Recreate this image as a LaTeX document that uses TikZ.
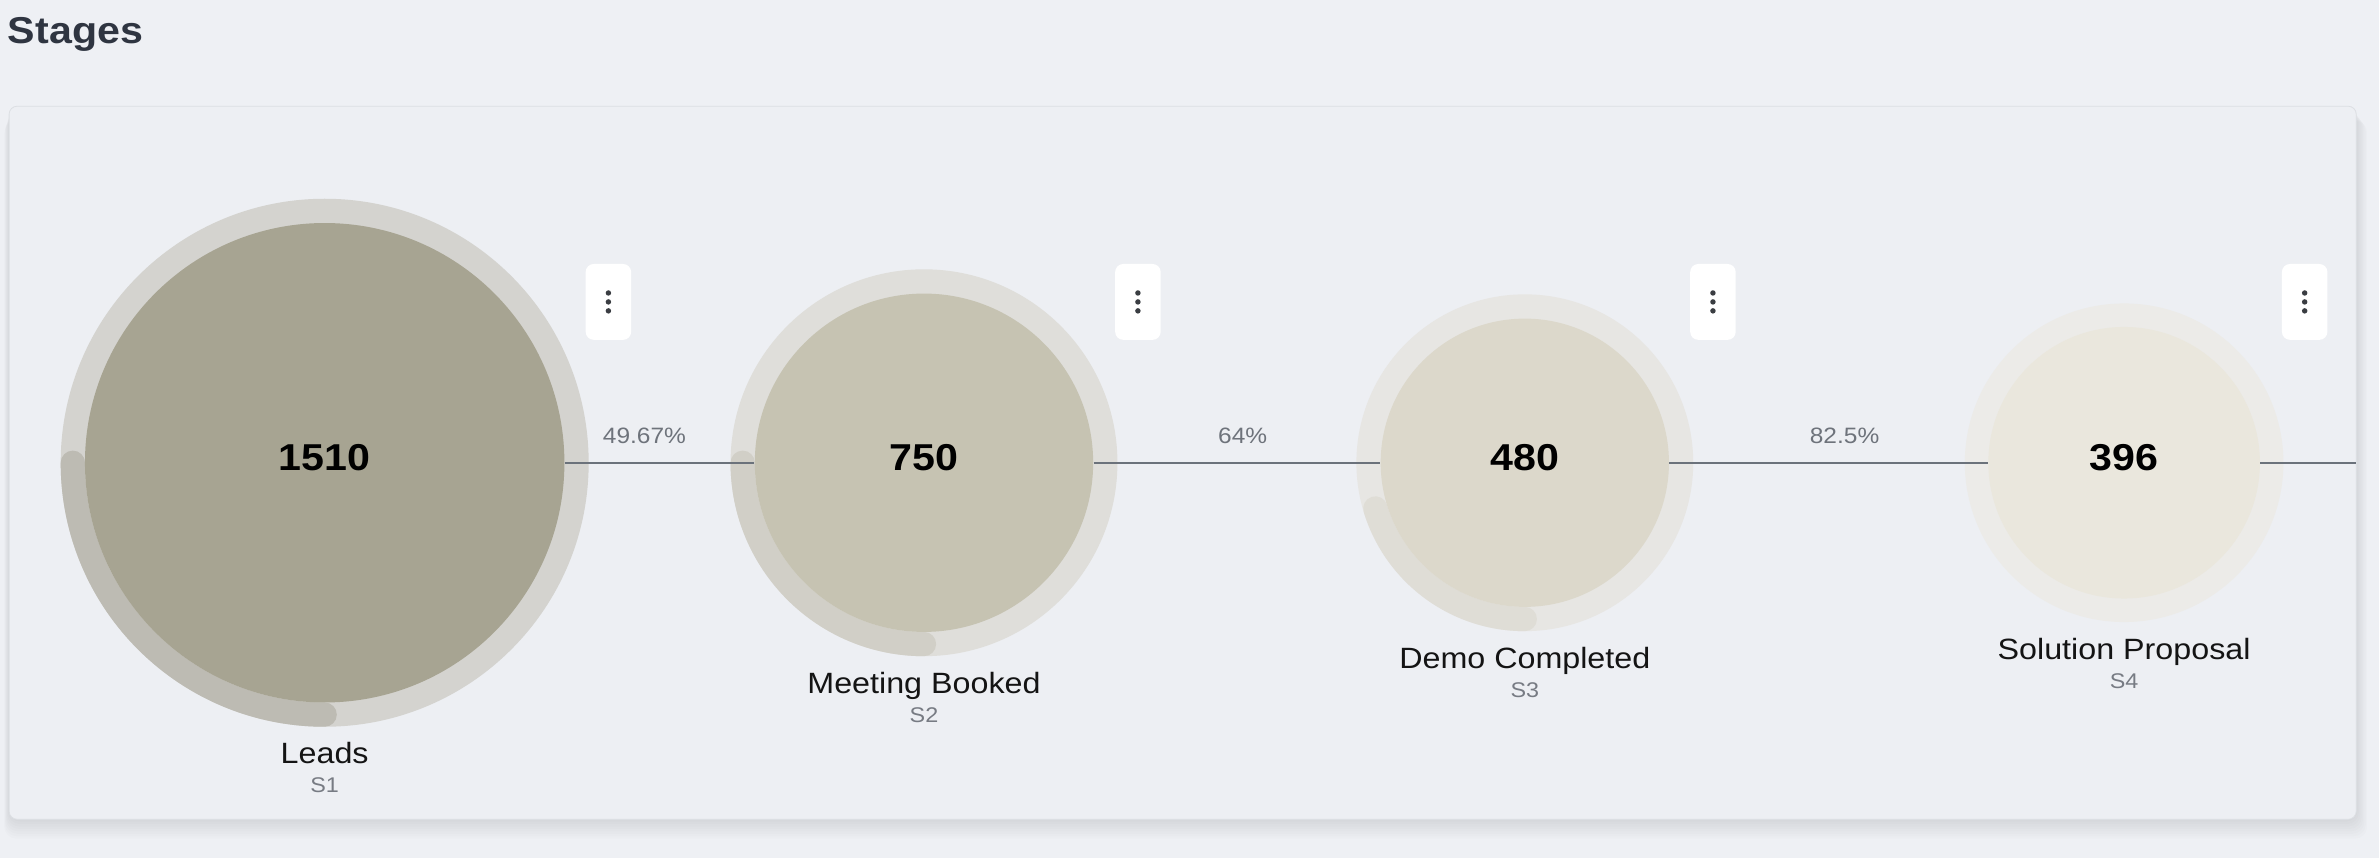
\documentclass[tikz,border=0pt]{standalone}
\usepackage{fontspec}
\setmainfont{Liberation Sans}[FakeStretch=1.1]
\usetikzlibrary{calc}
\definecolor{bgc}{HTML}{EEF0F4}
\definecolor{cardc}{HTML}{EDEFF3}
\definecolor{cardline}{HTML}{DCDFE3}
\definecolor{fill1}{HTML}{A7A492}
\definecolor{ring1}{HTML}{D4D3CF}
\definecolor{arc1}{HTML}{BDBBB3}
\definecolor{fill2}{HTML}{C6C3B2}
\definecolor{ring2}{HTML}{DFDEDA}
\definecolor{arc2}{HTML}{D1CFC7}
\definecolor{fill3}{HTML}{DCD8CB}
\definecolor{ring3}{HTML}{E7E6E3}
\definecolor{arc3}{HTML}{DFDDD6}
\definecolor{fill4}{HTML}{EAE7DD}
\definecolor{ring4}{HTML}{ECEBE8}
\definecolor{linkc}{HTML}{6B727B}
\definecolor{pctc}{HTML}{6E737B}
\definecolor{subc}{HTML}{777B83}
\definecolor{titlec}{HTML}{2F3541}
\definecolor{dotc}{HTML}{3A3D42}
\tikzset{ stage/.style = { circle
                         , inner sep  = 0pt
                         , text       = black
                         , text depth = 5.5pt
                         , font       = \fontsize{18.5}{20}\selectfont\bfseries
                         },
          arcs/.style  = { line width = 12pt
                         , line cap   = round
                         },
          lbl/.style   = { anchor     = base
                         , inner sep  = 0pt
                         , text       = black!92
                         , font       = \fontsize{14.5}{16}\selectfont
                         },
          sub/.style   = { anchor     = base
                         , inner sep  = 0pt
                         , text       = subc
                         , font       = \fontsize{10.5}{12}\selectfont
                         },
          pct/.style   = { above
                         , inner sep  = 0pt
                         , yshift     = 9pt
                         , text       = pctc
                         , font       = \fontsize{11}{12}\selectfont
                         },
          menu/.style  = { rectangle
                         , rounded corners = 4pt
                         , fill       = white
                         , minimum width  = 22.5pt
                         , minimum height = 37.5pt
                         },
          link/.style  = { draw = linkc
                         , line width = 0.85pt
                         }
        }

\begin{document}
\begin{tikzpicture}[x=0.75pt, y=0.75pt]
      \useasboundingbox (0,0.5) rectangle (1568,566);
      \fill[bgc] (0,0.5) rectangle (1568,566);
      % card with soft shadow
      \foreach \k in {1,...,8}
        \fill[black, opacity=0.012, rounded corners=6pt]
          (6-0.4*\k, 26-1.6*\k) rectangle (1553+0.9*\k, 496-1.2*\k);
      \draw[cardline, fill=cardc, rounded corners=4pt] (6,26) rectangle (1553,496);

      \node[anchor=base west, inner sep=0pt, text=titlec,
            font=\fontsize{18.5}{20}\selectfont\bfseries] (title) at (5,537) {Stages};

      \coordinate (c1) at ( 214,261);
      \coordinate (c2) at ( 609,261);
      \coordinate (c3) at (1005,261);
      \coordinate (c4) at (1400,261);
      \coordinate (end) at (1553,261);

      \fill[ring1] (c1) circle (174);
      \fill[ring2] (c2) circle (127.5);
      \fill[ring3] (c3) circle (111);
      \fill[ring4] (c4) circle (105);
      \draw[arcs, arc1] ($(c1)+(180:166)$) arc[start angle=180, end angle=270, radius=166];
      \draw[arcs, arc2] ($(c2)+(180:119.5)$) arc[start angle=180, end angle=270, radius=119.5];
      \draw[arcs, arc3] ($(c3)+(197:103)$) arc[start angle=197, end angle=270, radius=103];

      \node[stage, fill=fill1, minimum size=237pt]    (s1) at (c1) {1510};
      \node[stage, fill=fill2, minimum size=167.25pt] (s2) at (c2) {750};
      \node[stage, fill=fill3, minimum size=142.5pt]  (s3) at (c3) {480};
      \node[stage, fill=fill4, minimum size=134.25pt] (s4) at (c4) {396};

      \draw[link] (s1) -- node[pct, pos=0.42] (p12) {49.67\%} (s2);
      \draw[link] (s2) -- node[pct, pos=0.52] (p23) {64\%} (s3);
      \draw[link] (s3) -- node[pct, pos=0.55] (p34) {82.5\%} (s4);
      \draw[link] (s4) -- (end);

      \node[lbl] (l1) at ($(c1)+(0,-198)$)   {Leads};
      \node[sub] (t1) at ($(l1.base)+(0,-19.5)$) {S1};
      \node[lbl] (l2) at ($(c2)+(0,-152)$)   {Meeting Booked};
      \node[sub] (t2) at ($(l2.base)+(0,-19.5)$) {S2};
      \node[lbl] (l3) at ($(c3)+(0,-135.5)$) {Demo Completed};
      \node[sub] (t3) at ($(l3.base)+(0,-19.5)$) {S3};
      \node[lbl] (l4) at ($(c4)+(0,-129.5)$) {Solution Proposal};
      \node[sub] (t4) at ($(l4.base)+(0,-19.5)$) {S4};

      \node[menu] (m1) at ( 401,367) {};
      \node[menu] (m2) at ( 750,367) {};
      \node[menu] (m3) at (1129,367) {};
      \node[menu] (m4) at (1519,367) {};
      \foreach \m in {m1,m2,m3,m4}
        \foreach \d in {-5.9,0,5.9}
          \fill[dotc] ($(\m)+(0,\d)$) circle (1.8);
    \end{tikzpicture}
\end{document}
